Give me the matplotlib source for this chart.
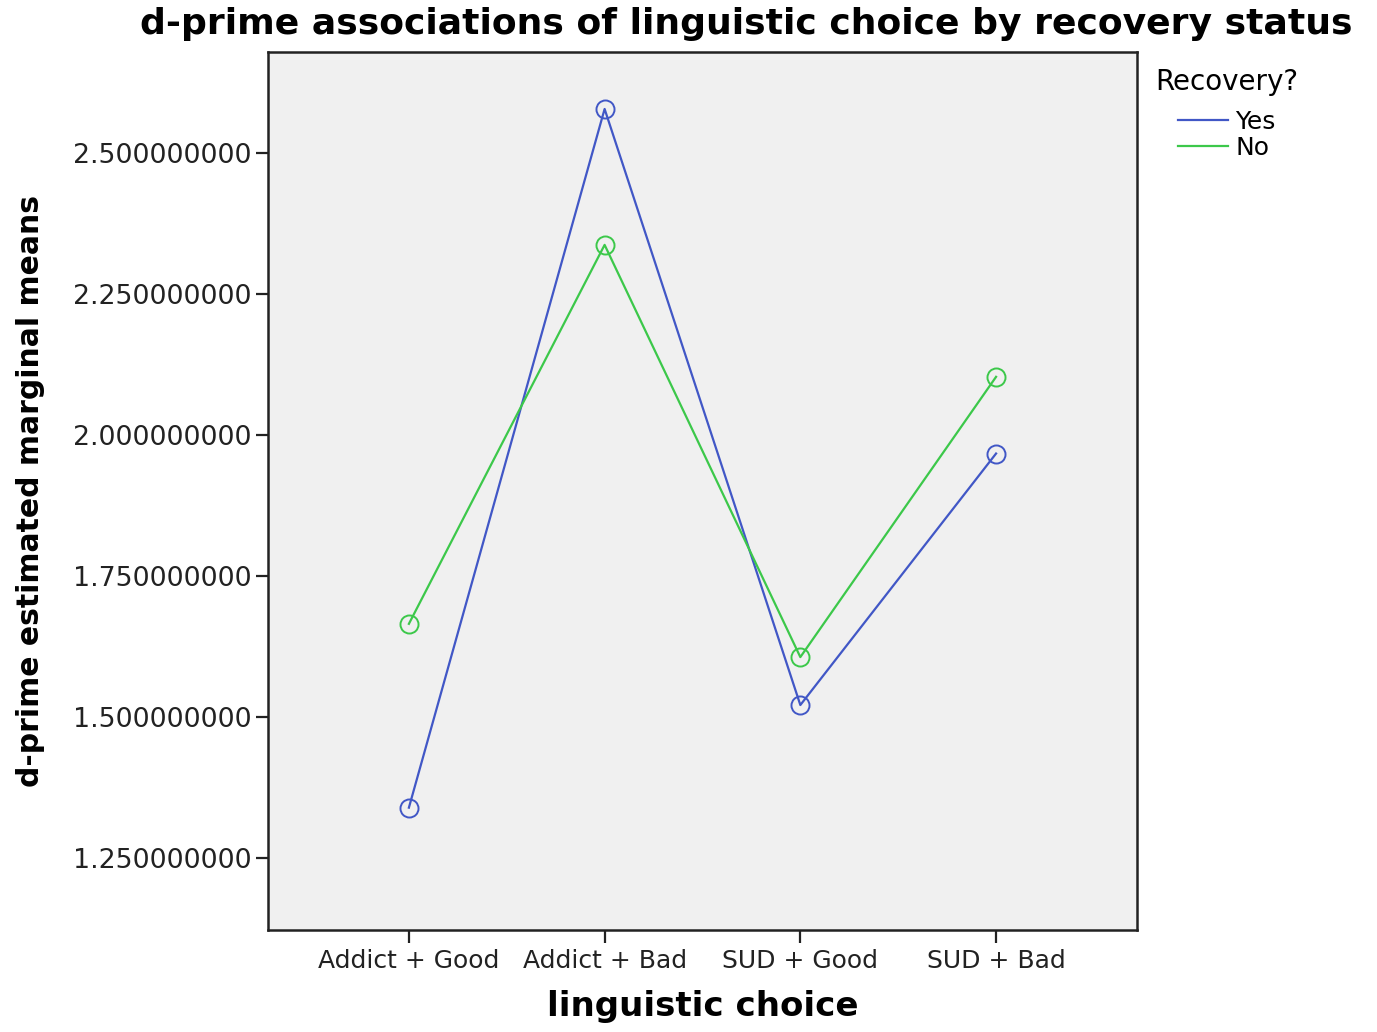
import matplotlib
matplotlib.use("Agg")
import matplotlib.pyplot as plt
from matplotlib.lines import Line2D

# values
categories = ["Addict + Good", "Addict + Bad", "SUD + Good", "SUD + Bad"]
recovery_yes = [1.339, 2.578, 1.521, 1.967]
recovery_no = [1.665, 2.337, 1.606, 2.103]
y_ticks = [1.25, 1.50, 1.75, 2.00, 2.25, 2.50]

BLUE = "#4157c6"
GREEN = "#3cc84a"

fig = plt.figure(figsize=(13.77, 10.32), dpi=100)
ax = fig.add_axes([0.1946, 0.0988, 0.8257 - 0.1946, 0.9496 - 0.0988])
ax.set_facecolor("#f0f0f0")

x = list(range(len(categories)))
ax.plot(x, recovery_yes, color=BLUE, lw=1.6, marker="o", ms=13,
        mfc="none", mec=BLUE, mew=1.4)
ax.plot(x, recovery_no, color=GREEN, lw=1.6, marker="o", ms=13,
        mfc="none", mec=GREEN, mew=1.4)

ax.set_xlim(-0.72, 3.72)
ax.set_ylim(1.122, 2.679)
ax.set_xticks(x)
ax.set_xticklabels(categories, fontsize=18, color="#222222")
ax.set_yticks(y_ticks)
ax.set_yticklabels([f"{v:.9f}" for v in y_ticks], fontsize=19.3, color="#222222")
ax.tick_params(direction="out", length=9, width=1.6, pad=3, color="#222222")
ax.tick_params(axis="x", pad=5)

for side in ["left", "bottom", "right", "top"]:
    ax.spines[side].set_linewidth(1.8)
    ax.spines[side].set_color("#222222")

ax.set_xlabel("linguistic choice", fontsize=24.5, fontweight="bold", labelpad=12)
ax.set_ylabel("d-prime estimated marginal means", fontsize=21.5, fontweight="bold", labelpad=20)
fig.suptitle("d-prime associations of linguistic choice by recovery status",
             fontsize=26, fontweight="bold", x=0.542, y=0.993, va="top")

handles = [Line2D([], [], color=BLUE, lw=1.6), Line2D([], [], color=GREEN, lw=1.6)]
leg = fig.legend(handles, ["Yes", "No"], loc="upper left", bbox_to_anchor=(0.839, 0.934),
                 frameon=False, title="Recovery?", title_fontsize=20, fontsize=18,
                 handlelength=2.0, handletextpad=0.3, labelspacing=0.08,
                 borderaxespad=0, borderpad=0)
leg._legend_box.sep = 10

fig.savefig("out.png", dpi=100)
